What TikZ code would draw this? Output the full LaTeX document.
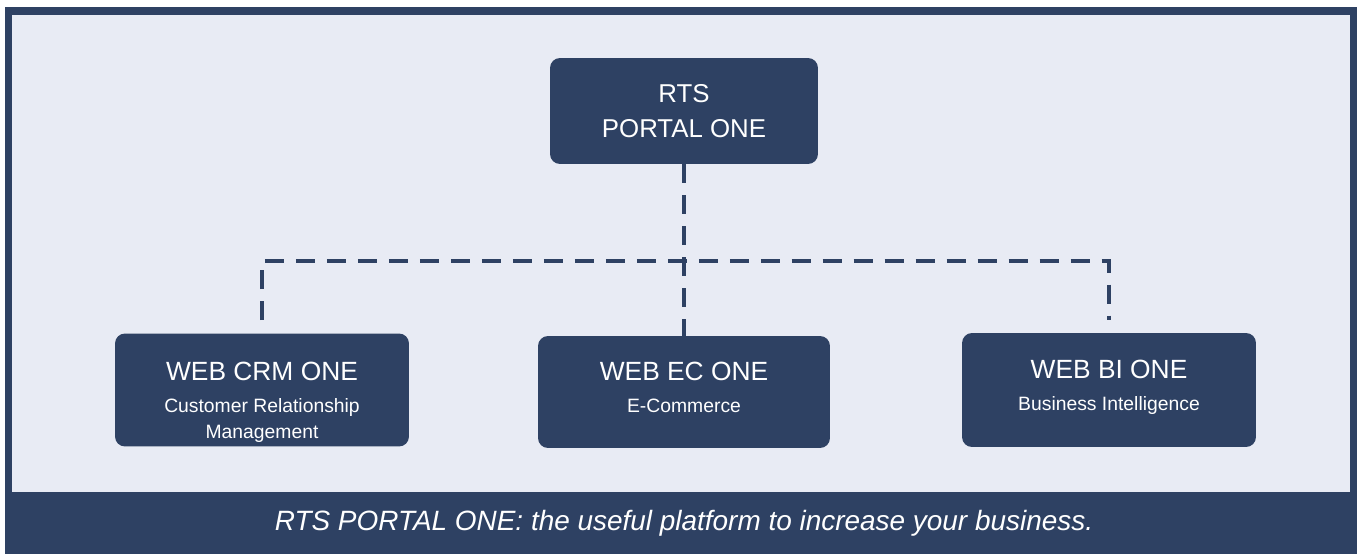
\documentclass[tikz,border=0pt]{standalone}
\usepackage{fontspec}
\setmainfont{Liberation Sans}
\usetikzlibrary{calc}
\definecolor{navy}{HTML}{2E4163}
\definecolor{paper}{HTML}{E8EBF4}
\newcommand{\lift}{\rule{0pt}{24pt}}

\begin{document}
\begin{tikzpicture}[x=0.02cm,y=-0.02cm]

	\tikzset{
	  unit/.style={
		fill=navy,
		rounded corners=0.2cm,
		text=white,
		align=center,
		inner sep=0pt,
		font=\fontsize{11}{14.5}\selectfont,
	  },
	  link/.style={
		draw=navy,
		line width=2.3pt,
		dash pattern=on 0.38cm off 0.24cm,
	  },
	}
	\useasboundingbox (0,0) rectangle (1361,554);
	% frame and caption band
	\fill[navy] (5,7) rectangle (1357,554);
	\fill[paper] (12,15) rectangle (1350,492);

	\node[unit,minimum width=5.36cm,minimum height=2.12cm,font=\fontsize{14.7}{20}\selectfont] (rts) at (684,111) {RTS\\PORTAL ONE};
	\node[unit,minimum width=5.88cm,minimum height=2.26cm] (crm) at (262,390) {\lift{\fontsize{15}{18}\selectfont WEB CRM ONE}\\[4pt]Customer Relationship\\Management};
	\node[unit,minimum width=5.84cm,minimum height=2.24cm] (ec) at (684,392) {\lift{\fontsize{15}{18}\selectfont WEB EC ONE}\\[4pt]E-Commerce\\\strut};
	\node[unit,minimum width=5.88cm,minimum height=2.28cm] (bi) at (1109,390) {\lift{\fontsize{15}{18}\selectfont WEB BI ONE}\\[4pt]Business Intelligence\\\strut};

	\node[text=white,font=\fontsize{15.9}{18}\selectfont\itshape] (motto) at (684,523) {RTS PORTAL ONE: the useful platform to increase your business.};

	\coordinate (fork) at (684,261);
	\draw[link] (rts.south) -- (ec.north);
	\draw[link] ($(crm.north)+(0,-13)$) |- (fork) -| ($(bi.north)+(0,-13)$);

\end{tikzpicture}
\end{document}
